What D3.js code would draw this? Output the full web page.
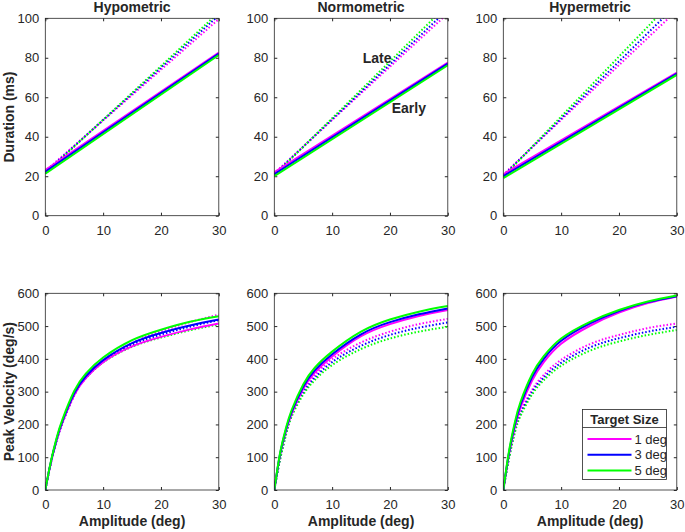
<!DOCTYPE html>
<html>
<head>
<meta charset="utf-8">
<script src="https://cdn.jsdelivr.net/npm/d3@7"></script>
<style>
  body { margin: 0; background: #fff; }
  text { font-family: "Liberation Sans", Arial, Helvetica, sans-serif; fill: #262626; }
</style>
</head>
<body>
<div id="chart"></div>
<script>
// Panel names and target sizes
const conditions = ["Hypometric", "Normometric", "Hypermetric"];
const targetSizes = ["1 deg", "3 deg", "5 deg"];
const sizeColors = ["#ff00ff", "#0000ff", "#00ff00"];

// Duration (ms) vs amplitude: straight lines, read at 0 and 30 deg
const durAmp = [0, 30];
// [condition][size] -> values at durAmp
const durEarly = [
  [[23.2, 82.6], [22.3, 82.1], [21.3, 81.4]],
  [[22.0, 77.6], [21.0, 77.0], [20.0, 76.2]],
  [[21.0, 72.5], [20.0, 72.0], [19.0, 71.3]]
];
const durLate = [
  [[22.6, 99.6], [22.0, 101.5], [21.4, 103.0]],
  [[21.5, 102.5], [21.0, 104.5], [20.5, 107.0]],
  [[20.8, 104.0], [20.3, 107.0], [19.8, 111.0]]
];

// Peak velocity (deg/s) vs amplitude
const velAmp = [0, 1, 2, 3, 5, 7, 10, 15, 20, 25, 30];
const velEarly = [
  [
    [0, 86, 155, 208, 290, 341, 390, 438, 467, 490, 508],
    [0, 88, 158, 212, 295, 347, 396, 448, 479, 502, 520],
    [0, 90, 162, 217, 302, 355, 404, 457, 489, 513, 530]
  ],
  [
    [0, 107, 179, 233, 309, 358, 407, 469, 506, 531, 549],
    [0, 110, 183, 238, 315, 365, 414, 475, 512, 536, 554],
    [0, 113, 188, 244, 322, 373, 422, 483, 520, 544, 561]
  ],
  [
    [0, 110, 192, 253, 335, 390, 446, 501, 541, 570, 590],
    [0, 115, 200, 262, 345, 400, 455, 508, 546, 573, 591],
    [0, 120, 207, 270, 354, 408, 462, 513, 549, 575, 593]
  ]
];
const velLate = [
  [
    [0, 84, 152, 205, 288, 341, 392, 448, 484, 512, 535],
    [0, 86, 154, 207, 290, 342, 391, 443, 474, 498, 518],
    [0, 87, 156, 209, 291, 342, 389, 437, 465, 487, 505]
  ],
  [
    [0, 97, 173, 232, 303, 350, 399, 450, 483, 506, 522],
    [0, 95, 170, 228, 297, 342, 390, 440, 473, 495, 511],
    [0, 93, 167, 224, 291, 335, 381, 430, 462, 483, 498]
  ],
  [
    [0, 103, 185, 239, 306, 351, 397, 445, 473, 494, 508],
    [0, 100, 180, 233, 299, 343, 388, 435, 463, 483, 498],
    [0, 97, 175, 227, 292, 335, 379, 425, 453, 473, 488]
  ]
];

// Tick values
const xTicks = [0, 10, 20, 30];
const durTicks = [0, 20, 40, 60, 80, 100];
const velTicks = [0, 100, 200, 300, 400, 500, 600];

// Annotations in the Normometric duration panel
const notes = [
  { text: "Late", amp: 15.3, dur: 77.5 },
  { text: "Early", amp: 20.3, dur: 52.2 }
];

const W = 685, H = 532;
const panelX = [45.3, 274.3, 503.3];
const panelW = 173.5;
const rows = [
  { y: 18.3, h: 197.4, domain: [0, 100], ticks: durTicks, label: "Duration (ms)" },
  { y: 293.3, h: 196.7, domain: [0, 600], ticks: velTicks, label: "Peak Velocity (deg/s)" }
];

const svg = d3.select("#chart").append("svg")
  .attr("width", W).attr("height", H);

const axisColor = "#262626";

function drawPanel(row, col) {
  const r = rows[row];
  const g = svg.append("g").attr("transform", `translate(${panelX[col]},${r.y})`);
  const x = d3.scaleLinear().domain([0, 30]).range([0, panelW]);
  const y = d3.scaleLinear().domain(r.domain).range([r.h, 0]);

  const clipId = `clip-${row}-${col}`;
  g.append("clipPath").attr("id", clipId)
    .append("rect").attr("width", panelW).attr("height", r.h);

  // axes with inward ticks (box style)
  const styleAxis = sel => {
    sel.select(".domain").remove();
    sel.selectAll("line").attr("stroke", axisColor);
    sel.selectAll("text").attr("fill", axisColor).style("font-size", "13px")
      .style("font-family", "'Liberation Sans', Arial, sans-serif");
  };
  g.append("g").attr("transform", `translate(0,${r.h})`)
    .call(d3.axisBottom(x).tickValues(xTicks).tickSize(-3).tickPadding(10)).call(styleAxis);
  g.append("g")
    .call(d3.axisTop(x).tickValues(xTicks).tickSize(-3).tickFormat("")).call(styleAxis);
  g.append("g")
    .call(d3.axisLeft(y).tickValues(r.ticks).tickSize(-3).tickPadding(6)).call(styleAxis);
  g.append("g").attr("transform", `translate(${panelW},0)`)
    .call(d3.axisRight(y).tickValues(r.ticks).tickSize(-3).tickFormat("")).call(styleAxis);

  const lines = g.append("g").attr("clip-path", `url(#${clipId})`);
  const line = d3.line().x(d => x(d[0])).y(d => y(d[1])).curve(d3.curveNatural);

  const amps = row === 0 ? durAmp : velAmp;
  const late = row === 0 ? durLate[col] : velLate[col];
  const early = row === 0 ? durEarly[col] : velEarly[col];

  // dotted = late, solid = early
  late.forEach((vals, i) => {
    lines.append("path")
      .datum(amps.map((a, k) => [a, vals[k]]))
      .attr("d", line)
      .attr("fill", "none")
      .attr("stroke", sizeColors[i])
      .attr("stroke-width", 2)
      .attr("stroke-dasharray", "1.5,2");
  });
  early.forEach((vals, i) => {
    lines.append("path")
      .datum(amps.map((a, k) => [a, vals[k]]))
      .attr("d", line)
      .attr("fill", "none")
      .attr("stroke", sizeColors[i])
      .attr("stroke-width", 2);
  });

  // box
  g.append("rect")
    .attr("width", panelW).attr("height", r.h)
    .attr("fill", "none").attr("stroke", axisColor).attr("stroke-width", 0.8);

  if (row === 0) {
    g.append("text")
      .attr("x", panelW / 2).attr("y", -6)
      .attr("text-anchor", "middle")
      .style("font-size", "14px").style("font-weight", "bold")
      .attr("fill", "#000")
      .text(conditions[col]);
  }
  if (row === 1) {
    g.append("text")
      .attr("x", panelW / 2).attr("y", 526 - r.y)
      .attr("text-anchor", "middle")
      .style("font-size", "14px").style("font-weight", "bold")
      .attr("fill", "#000")
      .text("Amplitude (deg)");
  }
  if (col === 0) {
    g.append("text")
      .attr("transform", `translate(${14 - panelX[0]},${r.h / 2}) rotate(-90)`)
      .attr("text-anchor", "middle")
      .style("font-size", "14px").style("font-weight", "bold")
      .attr("fill", "#000")
      .text(r.label);
  }
  if (row === 0 && col === 1) {
    g.selectAll(".note").data(notes).enter().append("text")
      .attr("x", d => x(d.amp)).attr("y", d => y(d.dur))
      .style("font-size", "14px").style("font-weight", "bold")
      .attr("fill", "#000")
      .text(d => d.text);
  }
  if (row === 1 && col === 2) {
    const lg = svg.append("g").attr("transform", "translate(582.5,409.5)");
    const lw = 84, lh = 70;
    lg.append("rect").attr("width", lw).attr("height", lh)
      .attr("fill", "#fff").attr("stroke", axisColor).attr("stroke-width", 0.8);
    lg.append("line").attr("x1", 0).attr("x2", lw).attr("y1", 18).attr("y2", 18)
      .attr("stroke", axisColor).attr("stroke-width", 0.8);
    lg.append("text").attr("x", lw / 2).attr("y", 14.5)
      .attr("text-anchor", "middle")
      .style("font-size", "13px").style("font-weight", "bold")
      .attr("fill", "#000")
      .text("Target Size");
    const item = lg.selectAll(".item").data(targetSizes).enter().append("g")
      .attr("transform", (d, i) => `translate(0,${29.5 + i * 15.8})`);
    item.append("line").attr("x1", 5).attr("x2", 49).attr("y1", 0).attr("y2", 0)
      .attr("stroke", (d, i) => sizeColors[i]).attr("stroke-width", 2);
    item.append("text").attr("x", 52).attr("dy", "0.35em")
      .style("font-size", "13px")
      .text(d => d);
  }
}

for (let row = 0; row < 2; row++) {
  for (let col = 0; col < 3; col++) drawPanel(row, col);
}
</script>
</body>
</html>
